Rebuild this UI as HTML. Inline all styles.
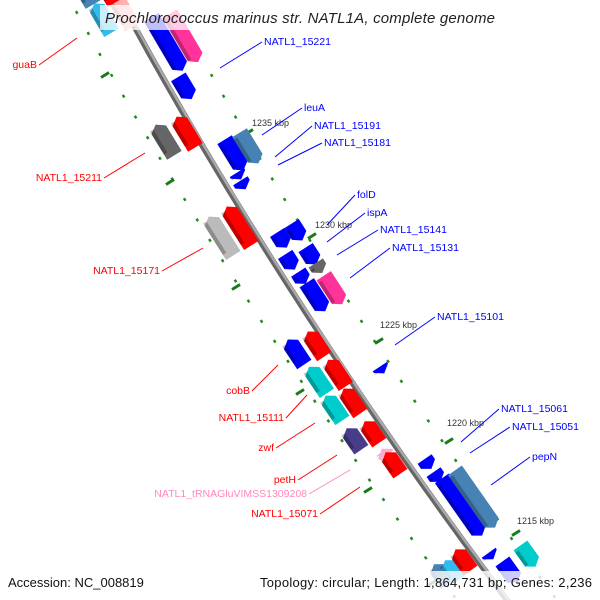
<!DOCTYPE html>
<html><head><meta charset="utf-8"><style>
html,body{margin:0;padding:0;background:#fff;width:600px;height:600px;overflow:hidden}
svg{display:block;font-family:"Liberation Sans","DejaVu Sans",sans-serif}
</style></head><body>
<svg id="s" width="600" height="600" xmlns="http://www.w3.org/2000/svg">
<g id="bb"></g><g id="gn"></g><g id="lb"></g>
</svg>
<script>
var NS="http://www.w3.org/2000/svg";
function el(p,t,a,txt){var e=document.createElementNS(NS,t);for(var k in a)e.setAttribute(k,a[k]);if(txt)e.textContent=txt;document.getElementById(p).appendChild(e);return e;}
function X(y,o){return 120+0.54*y+0.000175*y*y+(o||0);}
var d="M"+X(-10)+" -10";for(var y=0;y<=610;y+=10)d+=" L"+X(y).toFixed(1)+" "+y;
el("bb","path",{d:d,stroke:"#666",fill:"none","stroke-width":6});
el("bb","path",{d:d,stroke:"#aaa",fill:"none","stroke-width":2.5,transform:"translate(1,-1)"});
[-50,50].forEach(function(o){var p="M"+X(-10,o)+" -10";for(var y=0;y<=610;y+=10)p+=" L"+X(y,o).toFixed(1)+" "+y;
el("bb","path",{d:p,stroke:"#228b22",fill:"none","stroke-width":2.5,"stroke-dasharray":"3 21"});});
[[105,75],[249,132],[170,182],[312,236],[236,287],[379,341],[300,392],[449,441],[368,490],[516,533],[432,583]].forEach(function(t){
el("bb","line",{x1:t[0]-4,y1:t[1]+2.5,x2:t[0]+4,y2:t[1]-2.5,stroke:"#1a7a1a","stroke-width":3});});
function ang(y){return 60-6*(y/600);}
function g(cx,cy,L,c,dir,dark){var w=17,h=L/2,a=ang(cy);
var pts=dir>0?[[-h,-w/2],[h-6,-w/2],[h,0],[h-6,w/2],[-h,w/2]]:[[h,-w/2],[-h+6,-w/2],[-h,0],[-h+6,w/2],[h,w/2]];
var gg=el("gn","g",{transform:"translate("+cx+","+cy+") rotate("+a+")"});
var q=document.createElementNS(NS,"polygon");q.setAttribute("points",pts.map(function(p){return p.join(",")}).join(" "));q.setAttribute("fill",c);gg.appendChild(q);
var r=document.createElementNS(NS,"rect");r.setAttribute("x",-h+3);r.setAttribute("y",w/2-4);r.setAttribute("width",Math.max(L-9,1));r.setAttribute("height",4);r.setAttribute("fill",dark||"rgba(0,0,0,0.25)");gg.appendChild(r);}
var B="#0000ff",R="#ff0000",S="#4682b4",C="#00cccc",G="#666",LG="#bbb",P="#ff3399",PU="#483d8b";
g(103,18,34,"#33bbee",-1);g(124,12,34,"#ffb0b0",-1);g(88,-4,20,S,-1);g(110,-6,20,R,-1);
g(165,140,36,G,-1);g(186,132,36,R,-1);
g(221,236,46,LG,-1);g(239,226,46,R,-1);
g(296,352,30,B,-1);g(316,344,30,R,-1);
g(318,380,32,C,-1);g(337,373,32,R,-1);
g(334,408,30,C,-1);g(352,401,30,R,-1);
g(354,439,26,PU,-1);g(372,432,26,R,-1);
g(384,452,8,"#ffaacc",-1);g(393,463,26,R,-1);
g(441,574,24,S,-1);g(452,570,24,"#33bbee",-1);g(463,560,26,R,-1);
g(167,44,62,B,1);g(184,38,56,P,1);g(185,88,26,B,1);
g(234,155,36,B,1);g(249,148,36,S,1);g(239,176,8,B,1);g(243,185,10,B,1);
g(282,240,18,B,1);g(297,232,20,B,1);g(290,262,18,B,1);g(311,256,20,B,1);g(302,278,14,B,1);g(319,268,12,G,1);
g(316,297,34,B,1);g(333,290,34,P,1);
g(382,370,8,B,1);
g(428,464,12,B,1);g(437,477,12,B,1);g(462,507,70,B,1);g(475,499,70,S,1);
g(491,556,8,B,1);g(510,572,26,B,1);g(528,556,26,C,1);
[["1235 kbp",252,126],["1230 kbp",315,228],["1225 kbp",380,328],["1220 kbp",447,426],["1215 kbp",517,524]].forEach(function(k){
el("lb","text",{x:k[1],y:k[2],"font-size":"9",fill:"#333"},k[0]);});
[["NATL1_15221",264,45,220,68],["leuA",304,111,262,135],["NATL1_15191",314,129,275,157],["NATL1_15181",324,146,278,165],
["folD",357,198,327,225],["ispA",367,216,327,242],["NATL1_15141",380,233,337,255],["NATL1_15131",392,251,350,278],
["NATL1_15101",437,320,395,345],["NATL1_15061",501,412,461,442],["NATL1_15051",512,430,470,453],["pepN",532,460,491,485]].forEach(function(l){
el("lb","line",{x1:l[3],y1:l[4],x2:l[1]-2,y2:l[2]-3,stroke:"#0000ff","stroke-width":1});
el("lb","text",{x:l[1],y:l[2],"font-size":"10.5",fill:"#0000ff"},l[0]);});
[["guaB",37,68,77,38,R],["NATL1_15211",102,181,145,153,R],["NATL1_15171",160,274,203,248,R],["cobB",250,394,278,365,R],
["NATL1_15111",284,421,307,395,R],["zwf",274,451,315,423,R],["petH",296,483,337,455,R],
["NATL1_tRNAGluVIMSS1309208",307,497,350,470,"#ff88bb"],["NATL1_15071",318,517,360,487,R]].forEach(function(l){
el("lb","line",{x1:l[1]+2,y1:l[2]-3,x2:l[3],y2:l[4],stroke:l[5],"stroke-width":1});
el("lb","text",{x:l[1],y:l[2],"font-size":"10.5",fill:l[5],"text-anchor":"end"},l[0]);});
el("lb","rect",{x:100,y:5,width:402,height:25,fill:"rgba(255,255,255,0.75)"});
el("lb","text",{x:105,y:23,"font-size":"15","font-style":"italic",fill:"#222",textLength:"390",lengthAdjust:"spacing"},"Prochlorococcus marinus str. NATL1A, complete genome");
el("lb","rect",{x:0,y:571,width:600,height:29,fill:"rgba(255,255,255,0.8)"});
el("lb","text",{x:8,y:587,"font-size":"13",fill:"#111"},"Accession: NC_008819");
el("lb","text",{x:260,y:587,"font-size":"13",fill:"#111",textLength:"332",lengthAdjust:"spacing"},"Topology: circular; Length: 1,864,731 bp; Genes: 2,236");
</script>
</body></html>
